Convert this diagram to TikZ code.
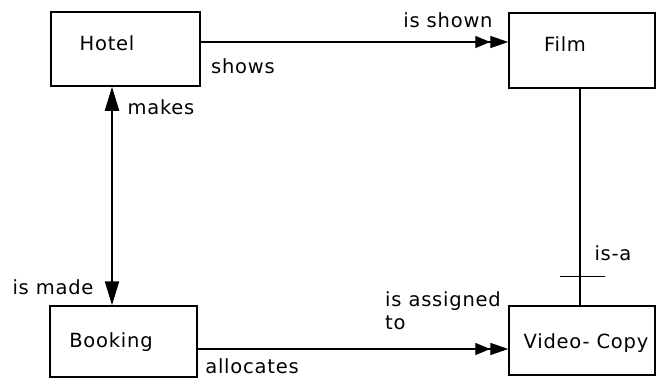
\documentclass[tikz,border=0pt]{standalone}
\usepackage{fontspec}
\setmainfont{DejaVu Sans}[LetterSpace=4]
\usetikzlibrary{arrows.meta}
\begin{document}
\begin{tikzpicture}[x=1pt,y=-1pt,
  font=\fontsize{19.5}{22}\selectfont,
  entity/.style={draw,line width=1.5pt,rectangle,inner sep=0pt},
  lbl/.style={inner sep=0pt,anchor=center},
  conn/.style={line width=1.4pt},
  many/.style={conn,-{Triangle[length=15pt,width=12pt]Triangle[length=18pt,width=12pt]}},
  onearrow/.style={line width=2.2pt,{Triangle[length=24pt,width=14pt]}-{Triangle[length=24pt,width=14pt]}}]
  \useasboundingbox (0,0) rectangle (662,378);
  % entity boxes
  \node[entity,minimum width=149pt,minimum height=74pt] (hotel) at (125.5,49) {};
  \node[entity,minimum width=146pt,minimum height=75pt] (film) at (582,50.5) {};
  \node[entity,minimum width=147pt,minimum height=71pt] (booking) at (123.5,341.5) {};
  \node[entity,minimum width=146pt,minimum height=69pt] (video) at (582,340.5) {};
  % entity names
  \node[lbl] (hotelname) at (107,43) {Hotel};
  \node[lbl] (filmname) at (565,44) {Film};
  \node[lbl] (bookingname) at (111,342) {Booking};
  \node[lbl] (videoname) at (586,343) {Video-\ Copy};
  % relationships
  \draw[many] ([yshift=7pt]hotel.east) -- ([yshift=7pt]hotel.east -| film.west);
  \draw[onearrow] ([xshift=-13.5pt]hotel.south) -- ([xshift=-13.5pt]hotel.south |- booking.north);
  \draw[many] ([yshift=-7.5pt]booking.east) -- ([yshift=-7.5pt]booking.east -| video.west);
  \draw[conn] ([xshift=-2pt]film.south) -- coordinate[pos=0.867] (bar) ([xshift=-2pt]film.south |- video.north);
  \draw[conn] ([xshift=-20pt]bar) -- ([xshift=25pt]bar);
  % relationship labels
  \node[lbl] (shows) at (243,66) {shows};
  \node[lbl] (isshown) at (448,20) {is shown};
  \node[lbl] (makes) at (161,107) {makes};
  \node[lbl] (ismade) at (53,287) {is made};
  \node[lbl] (isa) at (613,253) {is-a};
  \node[lbl,anchor=west,align=left,font=\fontsize{19.5}{23}\selectfont] (assigned) at (385,311) {is assigned\\to};
  \node[lbl,anchor=base] (allocates) at (252,373) {allocates};
\end{tikzpicture}
\end{document}
